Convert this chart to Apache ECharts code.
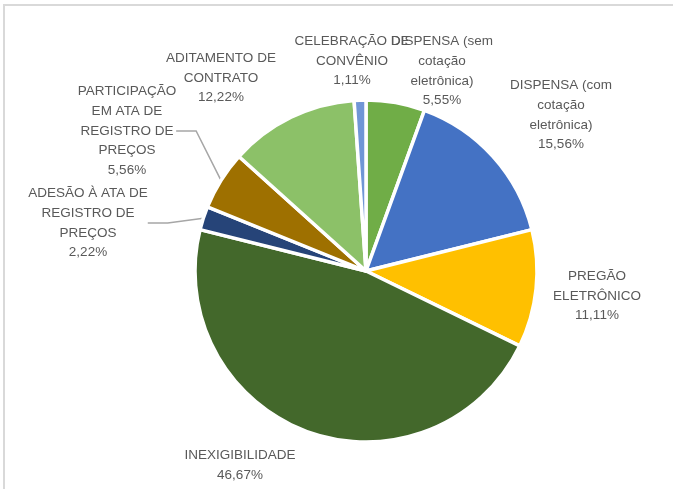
<!DOCTYPE html>
<html>
<head>
<meta charset="utf-8">
<script src="https://cdn.jsdelivr.net/npm/echarts@6/dist/echarts.min.js"></script>
<style>
  html, body { margin: 0; padding: 0; background: #fff; overflow: hidden; }
  #frame { position: absolute; left: 3px; top: 4px; width: 700px; height: 520px;
           border: 2px solid #d9d9d9; box-sizing: border-box; }
  #chart { position: absolute; left: 0; top: 0; width: 673px; height: 489px; }
</style>
</head>
<body>
<div id="frame"></div>
<div id="chart"></div>
<script>
// Modalidades de contratação (percentual do total)
const categories = [
  'DISPENSA (sem\ncotação\neletrônica)',
  'DISPENSA (com\ncotação\neletrônica)',
  'PREGÃO\nELETRÔNICO',
  'INEXIGIBILIDADE',
  'ADESÃO À ATA DE\nREGISTRO DE\nPREÇOS',
  'PARTICIPAÇÃO\nEM ATA DE\nREGISTRO DE\nPREÇOS',
  'ADITAMENTO DE\nCONTRATO',
  'CELEBRAÇÃO DE\nCONVÊNIO'
];
const values = [5.55, 15.56, 11.11, 46.67, 2.22, 5.56, 12.22, 1.11];
const percentLabels = ['5,55%', '15,56%', '11,11%', '46,67%', '2,22%', '5,56%', '12,22%', '1,11%'];

const sliceColors = ['#70AD47', '#4472C4', '#FFC000', '#43682B', '#264478', '#9E7000', '#8CC168', '#7096D6'];
// label block centres
const labelCenters = [
  [442, 71], [561, 115], [597, 296], [240, 465],
  [88, 223], [127, 131], [221, 78], [352, 61]
];
const withLeader = [false, false, false, false, true, true, false, false];

const chart = echarts.init(document.getElementById('chart'), null, { renderer: 'canvas' });

const data = categories.map((name, i) => ({
  name: name,
  value: values[i],
  itemStyle: { color: sliceColors[i] },
  labelLine: { show: withLeader[i] }
}));

chart.setOption({
  animation: false,
  series: [{
    type: 'pie',
    center: [366, 271],
    radius: [0, 171],
    startAngle: 90,
    clockwise: true,
    data: data,
    itemStyle: { borderColor: '#ffffff', borderWidth: 3.5 },
    label: {
      show: true,
      position: 'outside',
      formatter: p => p.name + '\n' + percentLabels[p.dataIndex],
      color: '#595959',
      fontFamily: 'Liberation Sans, Arial, sans-serif',
      fontSize: 13.5,
      lineHeight: 19.7,
      align: 'center'
    },
    labelLine: {
      length: 10,
      length2: 20,
      smooth: false,
      lineStyle: { color: '#a6a6a6', width: 1.5 }
    },
    labelLayout: function (p) {
      const c = labelCenters[p.dataIndex];
      return { x: c[0], y: c[1], align: 'center', verticalAlign: 'middle' };
    }
  }]
});
</script>
</body>
</html>
